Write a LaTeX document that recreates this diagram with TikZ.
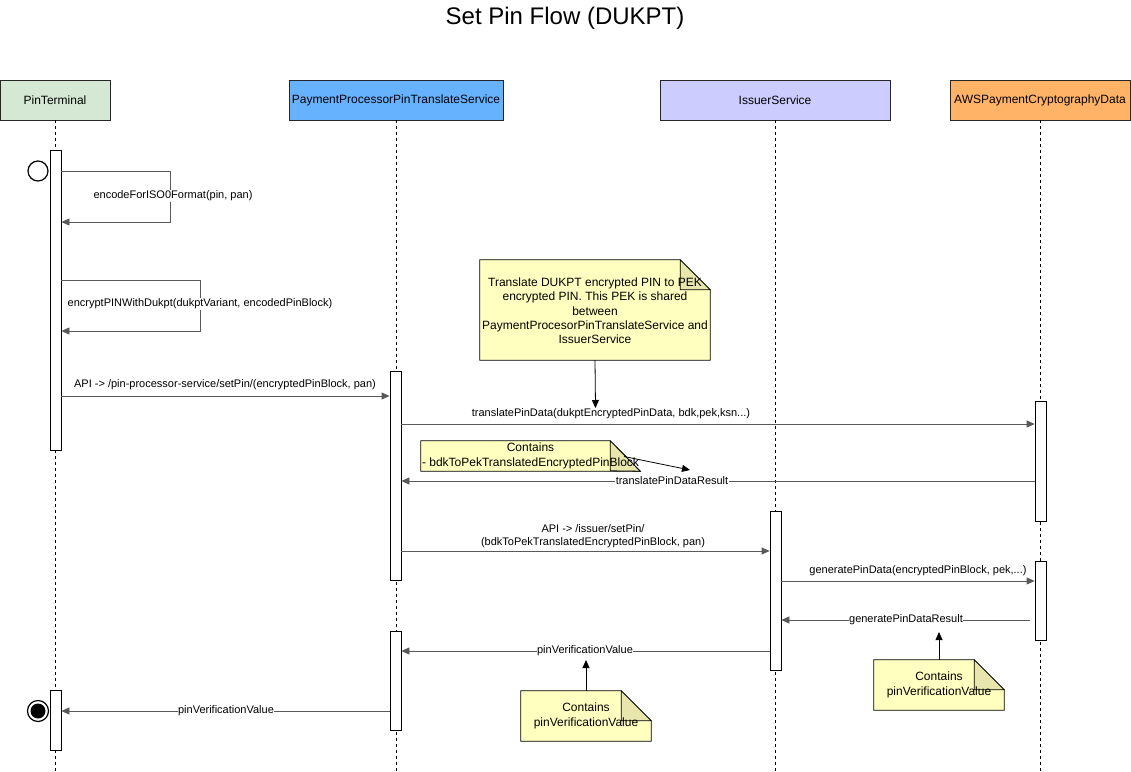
\documentclass[tikz,border=0pt]{standalone}
\usepackage{fontspec}
\setmainfont{Liberation Sans}
\usetikzlibrary{arrows.meta}
\definecolor{ptfill}{HTML}{D5E8D4}
\definecolor{ppfill}{HTML}{66B2FF}
\definecolor{isfill}{HTML}{CCCCFF}
\definecolor{awsfill}{HTML}{FFB366}
\definecolor{notefill}{HTML}{FFFFC0}
\definecolor{notefold}{HTML}{E6E6AD}
\definecolor{msgcol}{HTML}{595959}
\begin{document}
\begin{tikzpicture}[x=1pt,y=-1pt,
  head/.style={draw=black!85, line width=0.8pt, minimum height=40pt, inner sep=0pt, font=\fontsize{12}{14}\selectfont},
  act/.style={draw=black, fill=white, line width=0.8pt, minimum width=11pt, inner sep=0pt, anchor=north},
  life/.style={draw=black, line width=0.7pt, dash pattern=on 3pt off 3pt},
  msg/.style={draw=msgcol, line width=0.8pt, -{Triangle[length=8pt,width=7pt]}},
  lbl/.style={font=\fontsize{11}{13}\selectfont, fill=white, inner sep=0.5pt},
  lblt/.style={font=\fontsize{11}{13}\selectfont, inner sep=0pt, align=center},
  notebox/.style={inner sep=0pt, font=\fontsize{12}{14.3}\selectfont, align=center},
  noteline/.style={draw=black, line width=0.8pt, fill=notefill},
  foldline/.style={draw=black, line width=0.8pt, fill=notefold},
  narrow/.style={draw=black, line width=0.8pt, -{Triangle[length=8pt,width=7pt]}}
]
\useasboundingbox (0,0) rectangle (1131,771);

% title
\node[font=\fontsize{24}{28}\selectfont] (title) at (565,18) {Set Pin Flow (DUKPT)};

% headers
\node[head, fill=ptfill, minimum width=110pt] (pt) at (55,100) {PinTerminal};
\node[head, fill=ppfill, minimum width=214pt] (pp) at (396,100) {PaymentProcessorPinTranslateService};
\node[head, fill=isfill, minimum width=230pt] (is) at (775,100) {IssuerService};
\node[head, fill=awsfill, minimum width=180pt] (aws) at (1040,100) {AWSPaymentCryptographyData};

% lifelines
\coordinate (ptEnd) at (55,771);
\coordinate (ppEnd) at (396,771);
\coordinate (isEnd) at (775,771);
\coordinate (awsEnd) at (1040,771);
\draw[life] (pt.south) -- (ptEnd);
\draw[life] (pp.south) -- (ppEnd);
\draw[life] (is.south) -- (isEnd);
\draw[life] (aws.south) -- (awsEnd);

% activation bars
\node[act, minimum height=300pt] (ptA1) at (55.5,150) {};
\node[act, minimum height=60pt] (ptA2) at (55.5,690) {};
\node[act, minimum height=209pt] (ppA1) at (395.5,371) {};
\node[act, minimum height=99pt] (ppA2) at (395.5,631) {};
\node[act, minimum height=159pt] (isA1) at (775.5,511) {};
\node[act, minimum height=120pt] (awsA1) at (1040.5,401) {};
\node[act, minimum height=79pt] (awsA2) at (1040.5,561) {};

% start / end states
\node[circle, draw=black, line width=1.2pt, fill=white, minimum size=20pt, inner sep=0pt] (start) at (38,171) {};
\node[circle, draw=black, line width=1.2pt, fill=white, minimum size=21pt, inner sep=0pt] (stop) at (38,711) {};
\node[circle, fill=black, minimum size=15pt, inner sep=0pt] (stopin) at (38,711) {};

% self messages
\coordinate (s1a) at (170,171);
\coordinate (s1b) at (170,222);
\draw[msg] (ptA1.east |- s1a) -- (s1a) -- (s1b) -- (ptA1.east |- s1b);
\node[lbl] (l1) at (173,196) {encodeForISO0Format(pin, pan)};

\coordinate (s2a) at (200,280);
\coordinate (s2b) at (200,331);
\draw[msg] (ptA1.east |- s2a) -- (s2a) -- (s2b) -- (ptA1.east |- s2b);
\node[lbl] (l2) at (200,304) {encryptPINWithDukpt(dukptVariant, encodedPinBlock)};

% messages
\coordinate (y3) at (0,396);
\draw[msg] (ptA1.east |- y3) -- (ppA1.west |- y3);
\node[lblt] (l3) at (225,385) {API -> /pin-processor-service/setPin/(encryptedPinBlock, pan)};

\coordinate (y4) at (0,424);
\draw[msg] (ppA1.east |- y4) -- (awsA1.west |- y4);
\node[lblt] (l4) at (611,414) {translatePinData(dukptEncryptedPinData, bdk,pek,ksn...)};

\coordinate (y5) at (0,481);
\draw[msg] (awsA1.west |- y5) -- (ppA1.east |- y5);
\node[lbl] (l5) at (672,480.5) {translatePinDataResult};

\coordinate (y6) at (0,551);
\draw[msg] (ppA1.east |- y6) -- (isA1.west |- y6);
\node[lblt] (l6) at (593,536) {API -> /issuer/setPin/\\(bdkToPekTranslatedEncryptedPinBlock, pan)};

\coordinate (y7) at (0,581);
\draw[msg] (isA1.east |- y7) -- (awsA2.west |- y7);
\node[lblt] (l7) at (918,571) {generatePinData(encryptedPinBlock, pek,...)};

\coordinate (y8) at (1030,620);
\draw[msg] (y8) -- (isA1.east |- y8);
\node[lbl] (l8) at (906,620) {generatePinDataResult};

\coordinate (y9) at (0,651);
\draw[msg] (isA1.west |- y9) -- (ppA2.east |- y9);
\node[lbl] (l9) at (585,651) {pinVerificationValue};

\coordinate (y10) at (0,711);
\draw[msg] (ppA2.west |- y10) -- (ptA2.east |- y10);
\node[lbl] (l10) at (226,711) {pinVerificationValue};

% big note
\node[minimum width=230pt, minimum height=100pt, inner sep=0pt] (n0) at (595,310) {};
\path[noteline] (n0.north west) -- ([xshift=-30pt]n0.north east) -- ([yshift=-30pt]n0.north east) -- (n0.south east) -- (n0.south west) -- cycle;
\path[foldline] ([xshift=-30pt]n0.north east) -- ([xshift=-30pt,yshift=-30pt]n0.north east) -- ([yshift=-30pt]n0.north east) -- cycle;
\node[notebox] (n0t) at (595,311) {Translate DUKPT encrypted PIN to PEK\\encrypted PIN. This PEK is shared\\between\\PaymentProcesorPinTranslateService and\\IssuerService};
\coordinate (n0tip) at (595.5,408);
\draw[narrow] (n0.south) -- (n0tip);

% note 1
\node[minimum width=219pt, minimum height=30pt, inner sep=0pt] (n1) at (530.5,456) {};
\path[noteline] (n1.north west) -- ([xshift=-30pt]n1.north east) -- (n1.south east) -- (n1.south west) -- cycle;
\path[foldline] ([xshift=-30pt]n1.north east) -- ([xshift=-30pt,yshift=-30pt]n1.north east) -- (n1.south east) -- cycle;
\node[notebox] (n1t) at (530.5,456) {Contains\\- bdkToPekTranslatedEncryptedPinBlock};
\coordinate (n1s) at (624,456.5);
\coordinate (n1tip) at (690,470);
\draw[narrow] (n1s) -- (n1tip);

% note 2
\node[minimum width=130pt, minimum height=50pt, inner sep=0pt] (n2) at (939,685) {};
\path[noteline] (n2.north west) -- ([xshift=-30pt]n2.north east) -- ([yshift=-30pt]n2.north east) -- (n2.south east) -- (n2.south west) -- cycle;
\path[foldline] ([xshift=-30pt]n2.north east) -- ([xshift=-30pt,yshift=-30pt]n2.north east) -- ([yshift=-30pt]n2.north east) -- cycle;
\node[notebox] (n2t) at (939,685) {Contains\\pinVerificationValue};
\coordinate (n2tip) at (939,632);
\draw[narrow] (n2.north) -- (n2tip);

% note 3
\node[minimum width=130pt, minimum height=50pt, inner sep=0pt] (n3) at (586,716) {};
\path[noteline] (n3.north west) -- ([xshift=-30pt]n3.north east) -- ([yshift=-30pt]n3.north east) -- (n3.south east) -- (n3.south west) -- cycle;
\path[foldline] ([xshift=-30pt]n3.north east) -- ([xshift=-30pt,yshift=-30pt]n3.north east) -- ([yshift=-30pt]n3.north east) -- cycle;
\node[notebox] (n3t) at (586,716) {Contains\\pinVerificationValue};
\coordinate (n3tip) at (586,660);
\draw[narrow] (n3.north) -- (n3tip);

\end{tikzpicture}
\end{document}
